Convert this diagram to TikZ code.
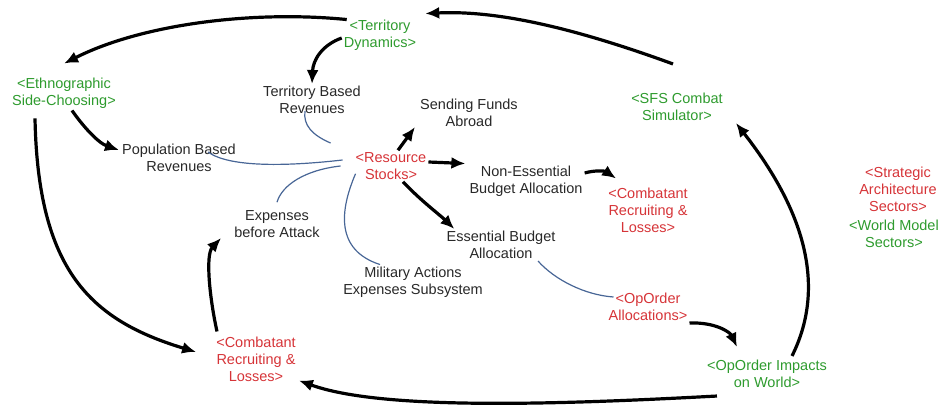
\documentclass[tikz,border=0pt]{standalone}
\usepackage{fontspec}
\setmainfont{Liberation Sans}
\usepackage{tikz}
\usetikzlibrary{positioning,arrows.meta,calc}
\definecolor{vgreen}{RGB}{46,155,46}
\definecolor{vred}{RGB}{214,52,56}
\definecolor{vblue}{RGB}{72,102,150}
\definecolor{vtext}{RGB}{40,40,40}
\begin{document}
\begin{tikzpicture}[x=1pt,y=1pt,
    lbl/.style={align=center, inner sep=2pt, text=vtext, font=\fontsize{14.5}{17}\selectfont},
    shd/.style={lbl, text=vgreen},
    shr/.style={lbl, text=vred},
    flow/.style={line width=3.2pt, -{Latex[length=14pt,width=12pt]}},
    info/.style={vblue, line width=1.2pt},
]
        \useasboundingbox (0,0) rectangle (940,407);
        % nodes
        \node[shd] (terr)  at (380,372) {<Territory\\Dynamics>};
        \node[shd] (ethno) at (64,314)  {<Ethnographic\\Side-Choosing>};
        \node[lbl] (tbr)   at (312,307) {Territory Based\\Revenues};
        \node[lbl] (sfa)   at (469,294) {Sending Funds\\Abroad};
        \node[shd] (sfs)   at (677,300) {<SFS Combat\\Simulator>};
        \node[lbl] (pbr)   at (179,249) {Population Based\\Revenues};
        \node[shr] (res)   at (391,241) {<Resource\\Stocks>};
        \node[lbl] (neb)   at (526,226) {Non-Essential\\Budget Allocation};
        \node[shr] (crR)   at (648,197) {<Combatant\\Recruiting \&\\Losses>};
        \node[shr] (strat) at (898,218) {<Strategic\\Architecture\\Sectors>};
        \node[shd] (world) at (894,173) {<World Model\\Sectors>};
        \node[lbl] (exp)   at (277,183) {Expenses\\before Attack};
        \node[lbl] (eba)   at (501,162) {Essential Budget\\Allocation};
        \node[lbl] (mil)   at (413,125) {Military Actions\\Expenses Subsystem};
        \node[shr] (opa)   at (648,100) {<OpOrder\\Allocations>};
        \node[shr] (crL)   at (256,48)  {<Combatant\\Recruiting \&\\Losses>};
        \node[shd] (opi)   at (767,33)  {<OpOrder Impacts\\on World>};
        % information links
        \draw[info] ([shift={(-23,23)}]res.west) .. controls (312,272) and (303,282) .. ([shift={(-7,5)}]tbr.south);
        \draw[info] ([shift={(-11,6)}]res.west) .. controls (290,241) and (230,239) .. ([shift={(29,6)}]pbr.center);
        \draw[info] ([xshift=-13]res.west) .. controls (305,237) and (282,222) .. ([yshift=6]exp.north);
        \draw[info] ([shift={(2,8)}]res.south west) .. controls (340,197) and (335,157) .. ([xshift=-33]mil.north);
        \draw[info] ([xshift=37]eba.south) .. controls (555,127) and (585,112) .. ([shift={(7,10)}]opa.west);
        % flows
        \draw[flow] ([shift={(-4,27)}]sfs.north) .. controls (580,377) and (500,397) .. ([shift={(7,4)}]terr.north east);
        \draw[flow] ([shift={(5,-2)}]terr.north west) .. controls (250,397) and (140,382) .. ([yshift=12]ethno.north);
        \draw[flow] ([yshift=-3]terr.west) .. controls (322,362) and (313,347) .. (tbr.north);
        \draw[flow] ([xshift=8]ethno.south) .. controls (82,282) and (98,264) .. ([shift={(-1,8)}]pbr.west);
        \draw[flow] ([shift={(-29,-8)}]ethno.south) .. controls (38,137) and (90,87) .. ([shift={(-18,7)}]crL.west);
        \draw[flow] ([shift={(-39,3)}]crL.north) .. controls (210,107) and (205,152) .. ([shift={(-11,-14)}]exp.west);
        \draw[flow] ([xshift=7]res.north) -- ([shift={(-3,2)}]sfa.south west);
        \draw[flow] ([yshift=4]res.east) -- ([xshift=-2]neb.north west);
        \draw[flow] ([xshift=12]res.south) .. controls (420,207) and (440,192) .. ([shift={(10,0)}]eba.north west);
        \draw[flow] ([yshift=8]neb.east) .. controls (595,237) and (605,236) .. ([shift={(10,7)}]crR.north west);
        \draw[flow] (opa.south east) .. controls (715,85) and (730,75) .. ([shift={(-30,11)}]opi.north);
        \draw[flow] ([shift={(25,2)}]opi.north) .. controls (825,117) and (808,192) .. ([xshift=11]sfs.south east);
        \draw[flow] ([shift={(12,-6)}]opi.south west) .. controls (550,2) and (380,-3) .. ([shift={(1,3)}]crL.south east);
    \end{tikzpicture}
\end{document}
